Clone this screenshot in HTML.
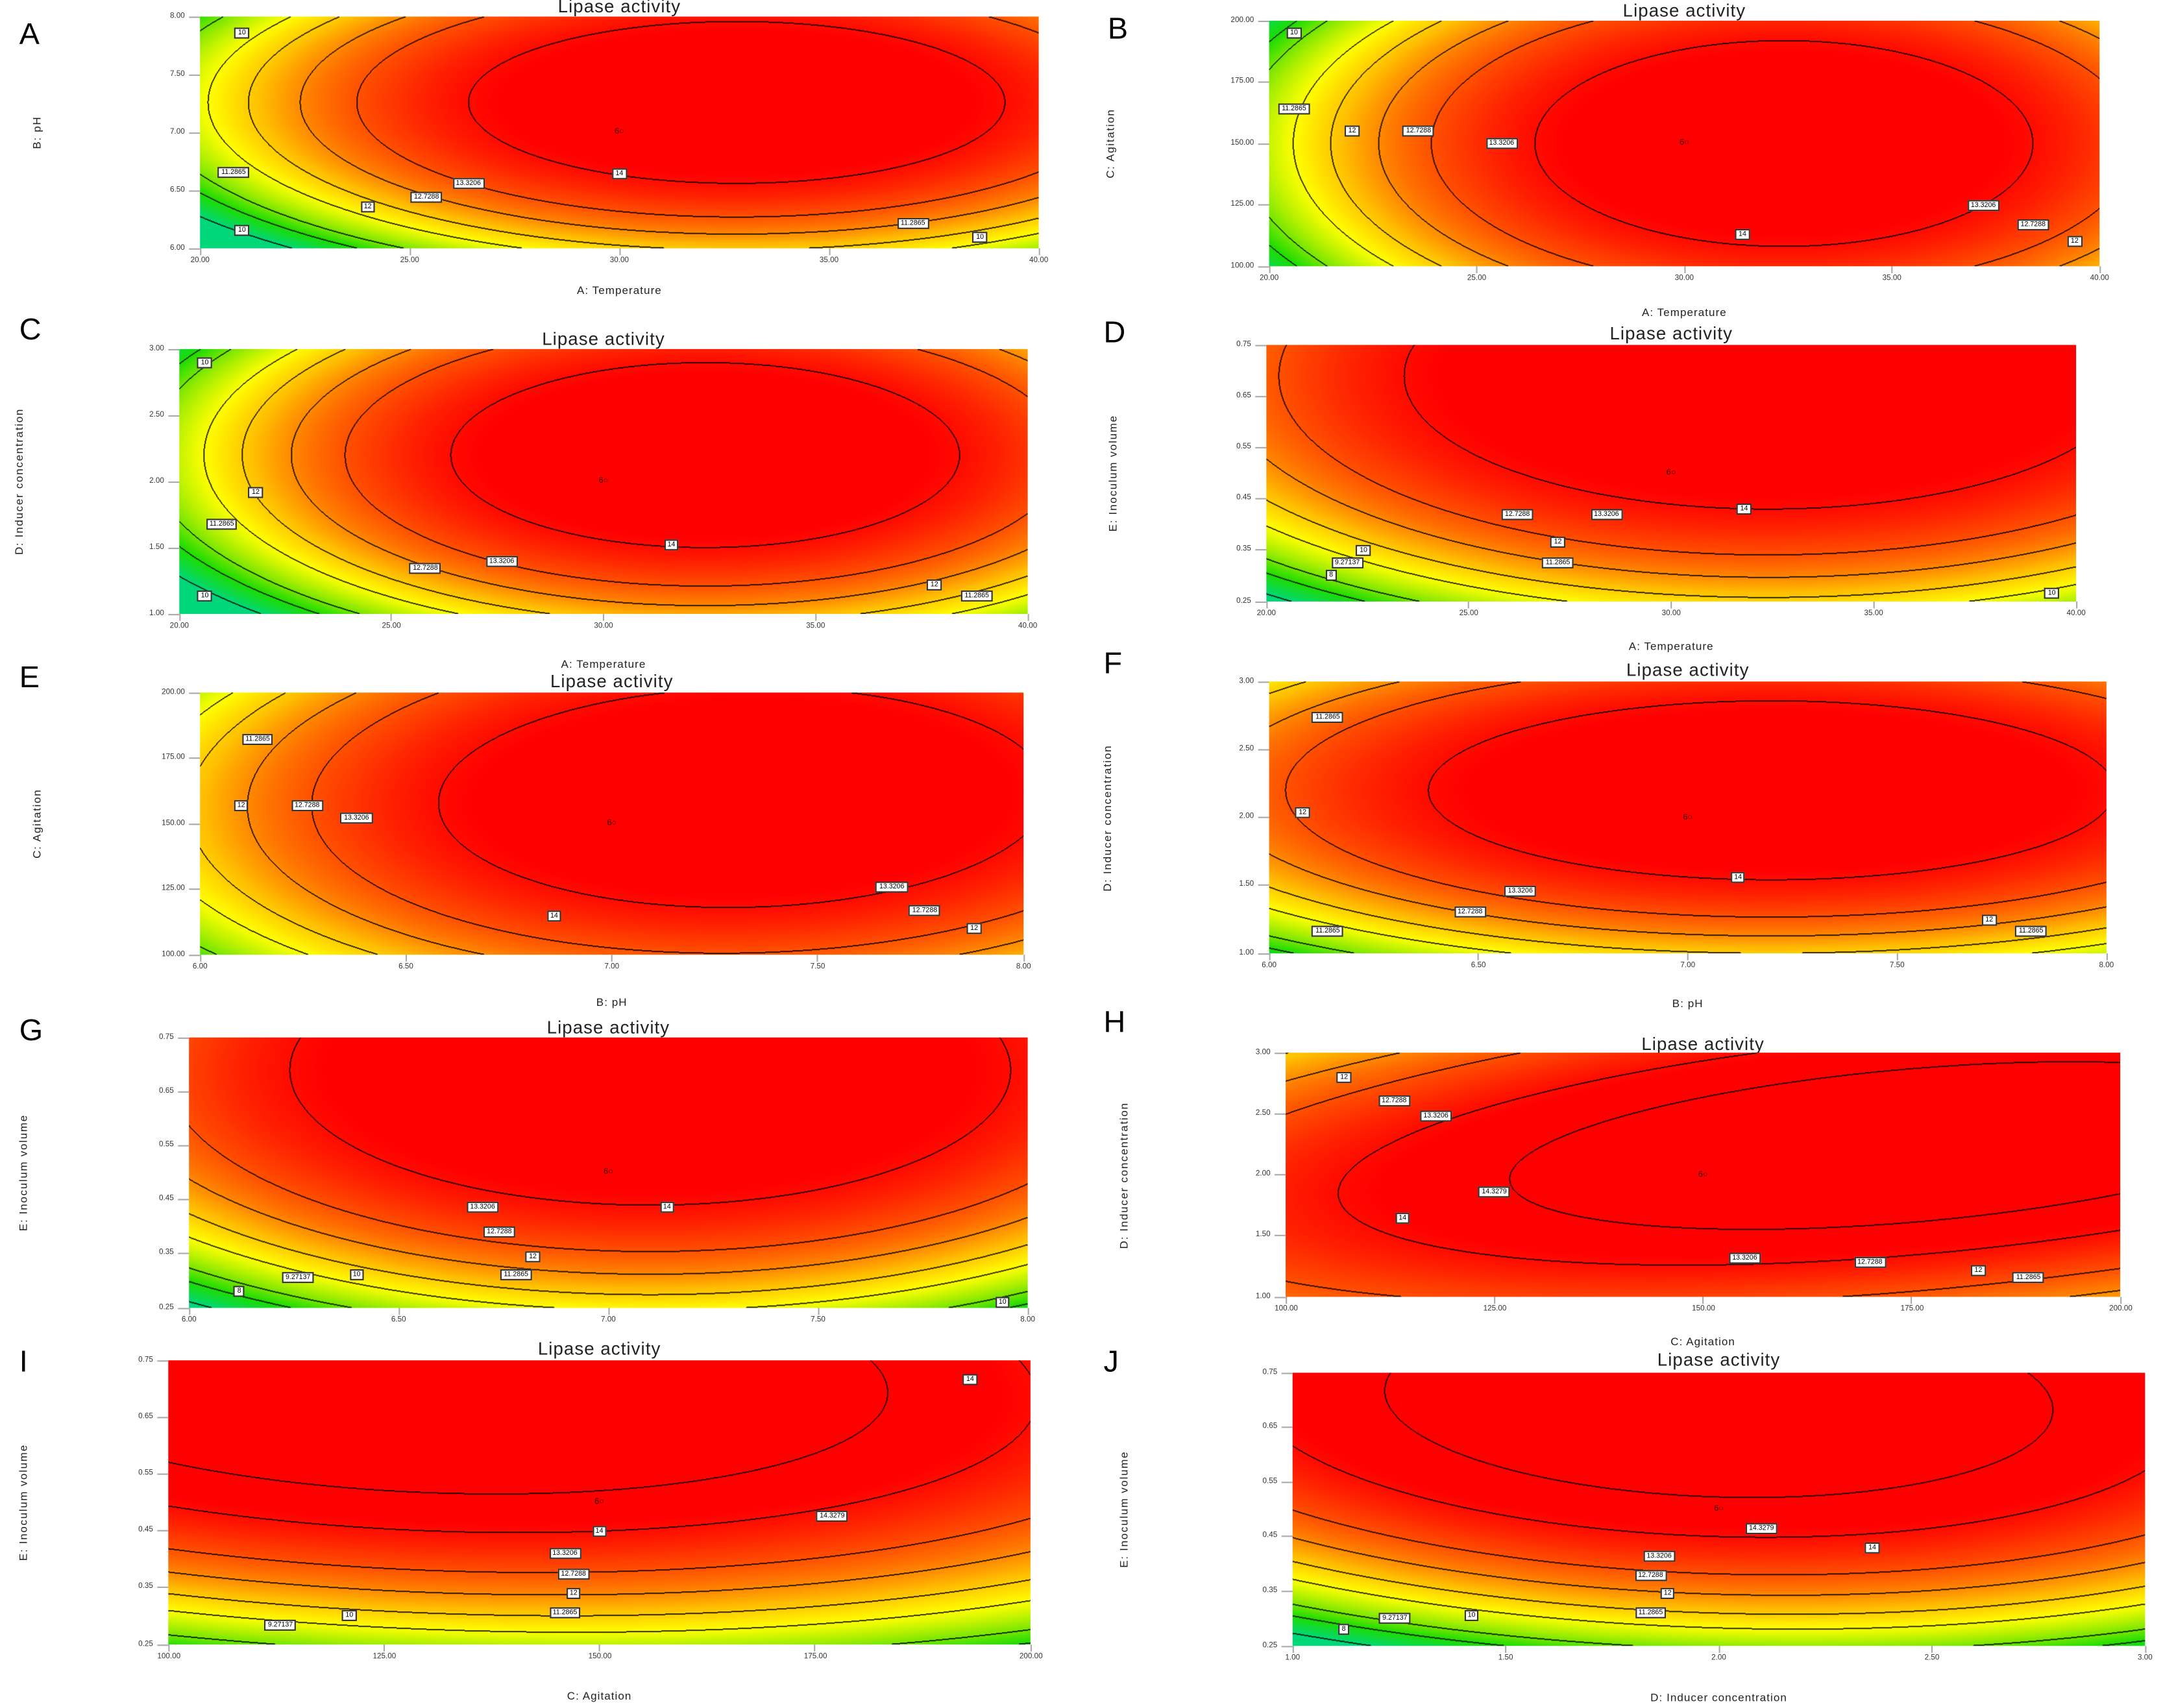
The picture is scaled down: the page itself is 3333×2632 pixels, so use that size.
<!DOCTYPE html>
<html><head><meta charset="utf-8">
<style>
html,body{margin:0;padding:0;background:#fff;}
body{width:3333px;height:2632px;overflow:hidden;position:relative;}
#root{position:absolute;left:0;top:0;width:1568px;height:1238px;transform-origin:0 0;transform:scale(2.12564,2.12601);font-family:"Liberation Sans",sans-serif;}
.abs{position:absolute;}
.letter{font-size:22px;color:#000;}
.title{font-size:13px;color:#222;transform:translateX(-50%);white-space:nowrap;letter-spacing:0.5px;}
.xlab{font-size:8px;color:#222;transform:translateX(-50%);white-space:nowrap;letter-spacing:0.5px;}
.ylab{font-size:8px;color:#222;white-space:nowrap;transform:translate(-50%,-50%) rotate(-90deg);letter-spacing:0.8px;}
.tick{font-size:5.5px;color:#333;white-space:nowrap;}
.tm{background:#aaa;}
.clab{font-size:5px;background:#fff;border:0.6px solid #333;padding:0 1.5px;line-height:6px;transform:translate(-50%,-50%);white-space:nowrap;color:#000;}
.cen{font-size:6px;color:#300;transform:translate(-50%,-50%);}
canvas{position:absolute;}
</style></head><body>
<div id="root"></div>
<script>
// Panel response-surface data (normalized coords)
const panelIds   = ['A','B','C','D','E','F','G','H','I','J'];
const peakValues = [14.3,14.3,14.3,14.3,14.3,14.3,14.3,14.5,14.5,14.45];
const centerU    = [0.64,0.62,0.62,0.62,0.66,0.6,0.55,0.75,0.3,0.5];
const centerV    = [0.63,0.5,0.6,0.88,0.6,0.6,0.88,0.62,0.95,0.9];
const radiusU    = [0.32,0.3,0.3,0.45,0.37,0.41,0.43,0.63,0.7,0.55];
const radiusV    = [0.35,0.42,0.35,0.52,0.42,0.33,0.5,0.45,0.55,0.5];
const tiltK      = [0,0,0,0,-0.1,0,0,-0.8,0.3,0.2];
const exponentP  = [1.7,1.7,1.7,2,1.7,1.7,2,1.5,1.9,1.9];
const levels     = [8,9.27137,10,11.2865,12,12.7288,13.3206,14,14.3279];
const titles     = ['Lipase activity','Lipase activity','Lipase activity','Lipase activity','Lipase activity','Lipase activity','Lipase activity','Lipase activity','Lipase activity','Lipase activity'];
const xLabels    = ['A: Temperature','A: Temperature','A: Temperature','A: Temperature','B: pH','B: pH','','C: Agitation','C: Agitation','D: Inducer concentration'];
const yLabels    = ['B: pH','C: Agitation','D: Inducer concentration','E: Inoculum volume','C: Agitation','D: Inducer concentration','E: Inoculum volume','D: Inducer concentration','E: Inoculum volume','E: Inoculum volume'];
const xTicks = [
 ['20.00','25.00','30.00','35.00','40.00'],['20.00','25.00','30.00','35.00','40.00'],
 ['20.00','25.00','30.00','35.00','40.00'],['20.00','25.00','30.00','35.00','40.00'],
 ['6.00','6.50','7.00','7.50','8.00'],['6.00','6.50','7.00','7.50','8.00'],
 ['6.00','6.50','7.00','7.50','8.00'],['100.00','125.00','150.00','175.00','200.00'],
 ['100.00','125.00','150.00','175.00','200.00'],['1.00','1.50','2.00','2.50','3.00']];
const yTicks = [
 ['6.00','6.50','7.00','7.50','8.00'],['100.00','125.00','150.00','175.00','200.00'],
 ['1.00','1.50','2.00','2.50','3.00'],['0.25','0.35','0.45','0.55','0.65','0.75'],
 ['100.00','125.00','150.00','175.00','200.00'],['1.00','1.50','2.00','2.50','3.00'],
 ['0.25','0.35','0.45','0.55','0.65','0.75'],['1.00','1.50','2.00','2.50','3.00'],
 ['0.25','0.35','0.45','0.55','0.65','0.75'],['0.25','0.35','0.45','0.55','0.65','0.75']];
const contourLabels = [
 [['10',0.05,0.93],['11.2865',0.04,0.33],['13.3206',0.32,0.28],['12.7288',0.27,0.22],['12',0.2,0.18],['14',0.5,0.32],['10',0.05,0.08],['11.2865',0.85,0.11],['10',0.93,0.05]],
 [['10',0.03,0.95],['11.2865',0.03,0.64],['12',0.1,0.55],['12.7288',0.18,0.55],['13.3206',0.28,0.5],['14',0.57,0.13],['13.3206',0.86,0.25],['12.7288',0.92,0.17],['12',0.97,0.1]],
 [['10',0.03,0.95],['12',0.09,0.46],['11.2865',0.05,0.34],['14',0.58,0.26],['13.3206',0.38,0.2],['12.7288',0.29,0.17],['10',0.03,0.07],['12',0.89,0.11],['11.2865',0.94,0.07]],
 [['14',0.59,0.36],['13.3206',0.42,0.34],['12.7288',0.31,0.34],['12',0.36,0.23],['11.2865',0.36,0.15],['10',0.12,0.2],['9.27137',0.1,0.15],['8',0.08,0.1],['10',0.97,0.03]],
 [['11.2865',0.07,0.82],['12',0.05,0.57],['12.7288',0.13,0.57],['13.3206',0.19,0.52],['14',0.43,0.15],['13.3206',0.84,0.26],['12.7288',0.88,0.17],['12',0.94,0.1]],
 [['11.2865',0.07,0.87],['12',0.04,0.52],['13.3206',0.3,0.23],['12.7288',0.24,0.15],['14',0.56,0.28],['11.2865',0.07,0.08],['12',0.86,0.12],['11.2865',0.91,0.08]],
 [['14',0.57,0.37],['13.3206',0.35,0.37],['12.7288',0.37,0.28],['12',0.41,0.19],['11.2865',0.39,0.12],['10',0.2,0.12],['9.27137',0.13,0.11],['8',0.06,0.06],['10',0.97,0.02]],
 [['12',0.07,0.9],['12.7288',0.13,0.8],['13.3206',0.18,0.74],['14.3279',0.25,0.43],['14',0.14,0.32],['13.3206',0.55,0.16],['12.7288',0.7,0.14],['12',0.83,0.11],['11.2865',0.89,0.08]],
 [['14',0.93,0.93],['14.3279',0.77,0.45],['14',0.5,0.4],['13.3206',0.46,0.32],['12.7288',0.47,0.25],['12',0.47,0.18],['11.2865',0.46,0.11],['10',0.21,0.1],['9.27137',0.13,0.07]],
 [['14.3279',0.55,0.43],['14',0.68,0.36],['13.3206',0.43,0.33],['12.7288',0.42,0.26],['12',0.44,0.19],['11.2865',0.42,0.12],['10',0.21,0.11],['9.27137',0.12,0.1],['8',0.06,0.06]]];
const rects = [[145,12,753,180],[920,15,1522,193],[130,253,745,445],[918,250,1505,436],[145,502,742,692],[920,494,1527,691],[137,752,745,948],[932,763,1537,940],[122,986,747,1192],[937,995,1555,1193]];
const titleY = [-3,0,238,234,486,478,737,749,970,978];
const xlabY  = [206,222,477,464,722,723,0,968,1225,1226];
const ylabX  = [27,805,14,807,27,803,17,815,17,815];
const letterPos = [[14,12],[803,8],[14,226],[800,228],[14,478],[800,468],[14,734],[800,728],[14,974],[800,974]];

const root = document.getElementById('root');
const SX = 2.12564;
function stopColor(v){
  const st=[[8,[0,215,120]],[9.3,[30,220,0]],[10.3,[150,235,0]],[11.3,[255,255,0]],[12.2,[255,190,0]],[12.9,[255,120,0]],[13.6,[255,55,0]],[14.1,[255,0,0]]];
  if(v<=st[0][0])return st[0][1];
  for(let i=1;i<st.length;i++){ if(v<=st[i][0]){const t=(v-st[i-1][0])/(st[i][0]-st[i-1][0]);const a=st[i-1][1],b=st[i][1];return [a[0]+(b[0]-a[0])*t,a[1]+(b[1]-a[1])*t,a[2]+(b[2]-a[2])*t];}}
  return st[st.length-1][1];
}
function model(p,u,v){
  const q14=Math.pow(peakValues[p]-14,1/exponentP[p]);
  const a=q14/(radiusU[p]*radiusU[p]), b=q14/(radiusV[p]*radiusV[p]), c=tiltK[p]*Math.sqrt(a*b);
  const du=u-centerU[p],dv=v-centerV[p];
  const Q=Math.max(0,a*du*du+b*dv*dv+c*du*dv);
  return peakValues[p]-Math.pow(Q,exponentP[p]);
}
function lvl(v){let n=0;for(const L of levels)if(v>L)n++;return n;}
function mk(tag,cls,name,parent){const e=document.createElement(tag);if(cls)e.className=cls;
 
 
 (parent||root).appendChild(e);return e;}

panelIds.forEach((id,p)=>{
  const [x0,y0,x1,y1]=rects[p];const w=x1-x0,h=y1-y0;
  const panel=mk('div','abs','panel-'+id.toLowerCase());
  panel.style.left='0';panel.style.top='0';
  const L=mk('div','abs letter','panel-letter-'+id.toLowerCase(),panel);L.textContent=id;L.style.left=letterPos[p][0]+'px';L.style.top=letterPos[p][1]+'px';
  const T=mk('div','abs title','chart-title',panel);T.textContent=titles[p];T.style.left=(x0+w/2)+'px';T.style.top=titleY[p]+'px';
  if(xLabels[p]){const X=mk('div','abs xlab','x-axis-title',panel);X.textContent=xLabels[p];X.style.left=(x0+w/2)+'px';X.style.top=xlabY[p]+'px';}
  const Y=mk('div','abs ylab','y-axis-title',panel);Y.textContent=yLabels[p];Y.style.left=ylabX[p]+'px';Y.style.top=(y0+h/2)+'px';
  const cv=document.createElement('canvas');
  
  
  const W=Math.round(w*SX),H=Math.round(h*SX);
  cv.width=W;cv.height=H;cv.style.left=x0+'px';cv.style.top=y0+'px';cv.style.width=w+'px';cv.style.height=h+'px';
  panel.appendChild(cv);
  const ctx=cv.getContext('2d');const img=ctx.createImageData(W,H);
  const vals=new Float32Array(W*H);
  for(let j=0;j<H;j++)for(let i=0;i<W;i++){vals[j*W+i]=model(p,i/(W-1),1-j/(H-1));}
  for(let j=0;j<H;j++)for(let i=0;i<W;i++){
    const k=j*W+i;const v=vals[k];let c=stopColor(v);
    const l=lvl(v);
    if((i<W-1&&lvl(vals[k+1])!=l)||(j<H-1&&lvl(vals[k+W])!=l)||(i>0&&lvl(vals[k-1])!=l)||(j>0&&lvl(vals[k-W])!=l)) c=[c[0]*0.2,c[1]*0.2,c[2]*0.2];
    img.data[k*4]=c[0];img.data[k*4+1]=c[1];img.data[k*4+2]=c[2];img.data[k*4+3]=255;
  }
  ctx.putImageData(img,0,0);
  const xt=xTicks[p];xt.forEach((t,i)=>{const xx=x0+w*i/(xt.length-1);
    const m=mk('div','abs tm','x-tick-mark',panel);m.style.left=(xx-0.4)+'px';m.style.top=(y1)+'px';m.style.width='0.8px';m.style.height='5px';
    const s=mk('div','abs tick','x-tick-label',panel);s.textContent=t;s.style.left=(xx-8)+'px';s.style.width='16px';s.style.textAlign='center';s.style.top=(y1+6)+'px';});
  const yt=yTicks[p];yt.forEach((t,i)=>{const yy=y1-h*i/(yt.length-1);
    const m=mk('div','abs tm','y-tick-mark',panel);m.style.left=(x0-8)+'px';m.style.top=(yy-0.4)+'px';m.style.width='8px';m.style.height='0.8px';
    const s=mk('div','abs tick','y-tick-label',panel);s.textContent=t;s.style.left=(x0-40)+'px';s.style.width='29px';s.style.textAlign='right';s.style.top=(yy-3.5)+'px';});
  contourLabels[p].forEach(([t,u,v])=>{const c=mk('div','abs clab','contour-label',panel);c.textContent=t;c.style.left=(x0+w*u)+'px';c.style.top=(y1-h*v)+'px';});
  const ce=mk('div','abs cen','design-center-point',panel);ce.textContent='6○';ce.style.left=(x0+w*0.5)+'px';ce.style.top=(y0+h*0.5)+'px';
});
</script>
</body></html>
